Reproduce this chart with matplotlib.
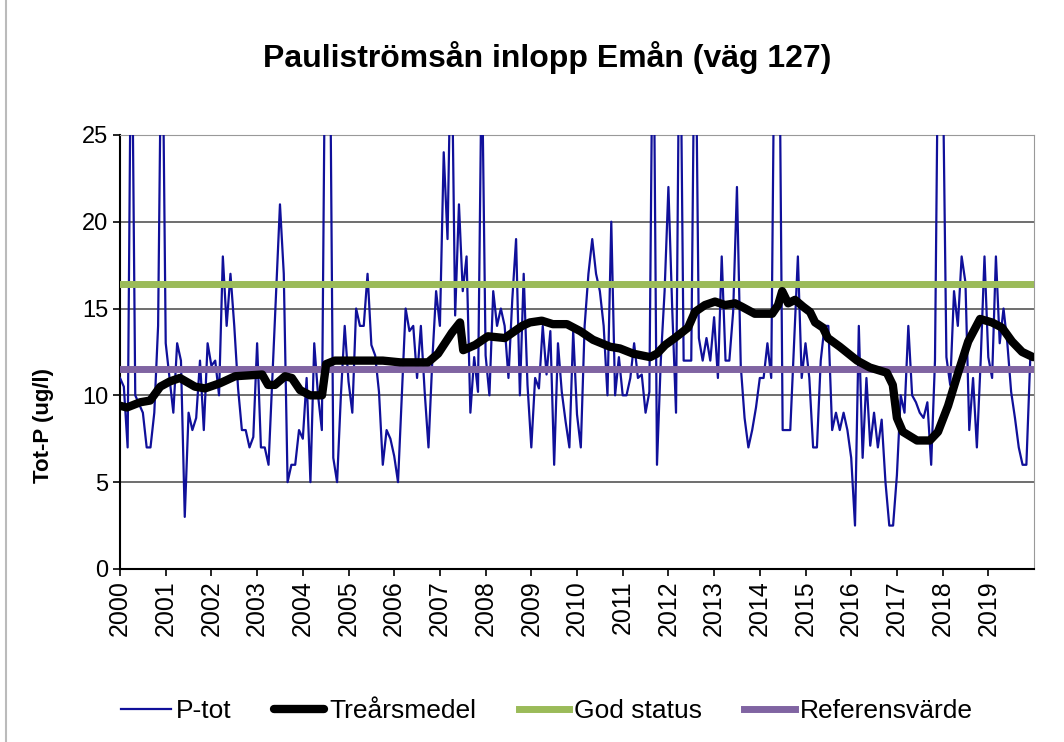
import matplotlib
matplotlib.use("Agg")
import matplotlib.pyplot as plt
import numpy as np

plt.rcParams['font.family'] = ['Liberation Sans', 'DejaVu Sans']

# P-tot, ett värde per månad 2000-2019 (ug/l), toppar över 25 klipps av axeln
ptot_2000 = [11, 10.5, 7, 35, 10, 9.5, 9, 7, 7, 9, 14, 35]
ptot_2001 = [13, 11, 9, 13, 12, 3, 9, 8, 8.7, 12, 8, 13]
ptot_2002 = [11.7, 12, 10, 18, 14, 17, 14, 10.4, 8, 8, 7, 7.6]
ptot_2003 = [13, 7, 7, 6, 11, 16, 21, 17, 5, 6, 6, 8]
ptot_2004 = [7.5, 11, 5, 13, 10, 8, 35, 35, 6.4, 5, 10, 14]
ptot_2005 = [10.8, 9, 15, 14, 14, 17, 12.9, 12.3, 10.2, 6, 8, 7.5]
ptot_2006 = [6.5, 5, 10, 15, 13.7, 14, 11, 14, 10.2, 7, 12, 16]
ptot_2007 = [14, 24, 19, 32, 14.6, 21, 16, 18, 9, 12.2, 10.2, 30]
ptot_2008 = [12.3, 10, 16, 14, 15, 14, 11, 15.5, 19, 10, 17, 10.6]
ptot_2009 = [7, 11, 10.4, 14, 11.2, 13.7, 6, 13, 10.2, 8.5, 7, 13.7]
ptot_2010 = [8.9, 7, 14, 17, 19, 17, 16, 14, 10, 20, 10, 12.2]
ptot_2011 = [10, 10, 11, 13, 11, 11.2, 9, 10.2, 35, 6, 12, 16]
ptot_2012 = [22, 15, 9, 35, 12, 12, 12, 35, 13.3, 12, 13.3, 12]
ptot_2013 = [14.5, 11, 18, 12, 12, 14.8, 22, 11.7, 8.7, 7, 8, 9.3]
ptot_2014 = [11, 11, 13, 11, 35, 35, 8, 8, 8, 13, 18, 11]
ptot_2015 = [13, 11, 7, 7, 12, 14, 14, 8, 9, 8, 9, 8]
ptot_2016 = [6.4, 2.5, 14, 6.4, 11, 7.1, 9, 7, 8.6, 5, 2.5, 2.5]
ptot_2017 = [5.4, 10, 9, 14, 10, 9.6, 9, 8.7, 9.6, 6, 12, 35]
ptot_2018 = [30, 12.2, 10.6, 16, 14, 18, 16.5, 8, 11, 7, 12, 18]
ptot_2019 = [12.2, 11, 18, 13, 15, 13, 10.2, 8.7, 7, 6, 6, 12]

ptot = (ptot_2000 + ptot_2001 + ptot_2002 + ptot_2003 + ptot_2004 +
        ptot_2005 + ptot_2006 + ptot_2007 + ptot_2008 + ptot_2009 +
        ptot_2010 + ptot_2011 + ptot_2012 + ptot_2013 + ptot_2014 +
        ptot_2015 + ptot_2016 + ptot_2017 + ptot_2018 + ptot_2019)
ptot_tid = 2000 + np.arange(len(ptot)) / 12.0

# Treårsmedel, avläst (decimalår, värde)
medel_tid = [2000.00, 2000.15, 2000.44, 2000.66, 2000.88, 2001.09, 2001.31,
             2001.64, 2001.86, 2002.19, 2002.52, 2003.11, 2003.24, 2003.39,
             2003.61, 2003.76, 2003.94, 2004.16, 2004.42, 2004.51, 2004.70,
             2005.03, 2005.75, 2006.13, 2006.39, 2006.74, 2006.96, 2007.26,
             2007.44, 2007.51, 2007.77, 2008.05, 2008.42, 2008.80, 2008.97,
             2009.23, 2009.47, 2009.78, 2010.07, 2010.35, 2010.72, 2010.94,
             2011.23, 2011.60, 2011.75, 2011.93, 2012.14, 2012.43, 2012.58,
             2012.80, 2013.02, 2013.24, 2013.46, 2013.61, 2013.89, 2014.27,
             2014.40, 2014.49, 2014.62, 2014.77, 2014.95, 2015.10, 2015.21,
             2015.38, 2015.49, 2015.75, 2016.13, 2016.41, 2016.78, 2016.91,
             2017.00, 2017.13, 2017.44, 2017.72, 2017.90, 2018.12, 2018.34,
             2018.56, 2018.82, 2019.08, 2019.30, 2019.52, 2019.74, 2019.98]
medel_val = [9.4, 9.3, 9.6, 9.7, 10.5, 10.8, 11.0,
             10.5, 10.4, 10.7, 11.1, 11.2, 10.6, 10.6,
             11.1, 11.0, 10.3, 10.0, 10.0, 11.8, 12.0,
             12.0, 12.0, 11.9, 11.9, 11.9, 12.4, 13.6,
             14.2, 12.6, 12.9, 13.4, 13.3, 14.0, 14.2,
             14.3, 14.1, 14.1, 13.7, 13.2, 12.8, 12.7,
             12.4, 12.2, 12.4, 12.9, 13.3, 13.9, 14.8,
             15.2, 15.4, 15.2, 15.3, 15.1, 14.7, 14.7,
             15.2, 16.0, 15.3, 15.5, 15.1, 14.8, 14.2,
             13.9, 13.3, 12.8, 12.0, 11.6, 11.3, 10.6,
             8.7, 7.9, 7.4, 7.4, 7.9, 9.4, 11.3,
             13.1, 14.4, 14.2, 13.9, 13.1, 12.5, 12.2]

god_status = 16.4
referensvarde = 11.5

ar = list(range(2000, 2020))

fig = plt.figure(figsize=(10.64, 7.42), dpi=100)
ax = fig.add_axes([0.1128, 0.2332, 0.859, 0.585])

ax.plot(ptot_tid, ptot, color='#10109a', lw=1.6, label='P-tot', zorder=3)
ax.plot(medel_tid, medel_val, color='black', lw=6, label='Treårsmedel',
        solid_joinstyle='round', solid_capstyle='round', zorder=5)
ax.axhline(god_status, color='#9bbb59', lw=5, label='God status', zorder=4)
ax.axhline(referensvarde, color='#8064a2', lw=5, label='Referensvärde', zorder=4)

ax.set_xlim(2000, 2020)
ax.set_ylim(0, 25)
ax.set_yticks(range(0, 26, 5))
ax.set_xticks(ar)
ax.set_xticklabels([str(a) for a in ar], rotation=90, fontsize=18)
ax.tick_params(axis='y', labelsize=17, length=5, width=1.2, direction='out')
ax.tick_params(axis='x', length=5, width=1.2, direction='out', pad=3)

ax.yaxis.grid(True, color='#555555', lw=1.2)
ax.set_axisbelow(True)
for s in ['top', 'right']:
    ax.spines[s].set_color('#999999')
for s in ['left', 'bottom']:
    ax.spines[s].set_color('black')
    ax.spines[s].set_linewidth(1.5)

ax.set_ylabel('Tot-P (ug/l)', fontsize=16, fontweight='bold')
ax.yaxis.set_label_coords(-0.072, 0.33)
fig.text(0.514, 0.922, 'Pauliströmsån inlopp Emån (väg 127)', ha='center',
         va='center', fontsize=23, fontweight='bold')

handles, labels = ax.get_legend_handles_labels()
fig.legend(handles, labels, loc='center', bbox_to_anchor=(0.514, 0.042),
           ncol=4, frameon=False, fontsize=19, handlelength=1.9,
           handletextpad=0.2, columnspacing=1.6)

fig.add_artist(plt.Line2D([0.006, 0.006], [0, 1], color='#bbbbbb', lw=1.5))

fig.savefig('out.png', dpi=100)
